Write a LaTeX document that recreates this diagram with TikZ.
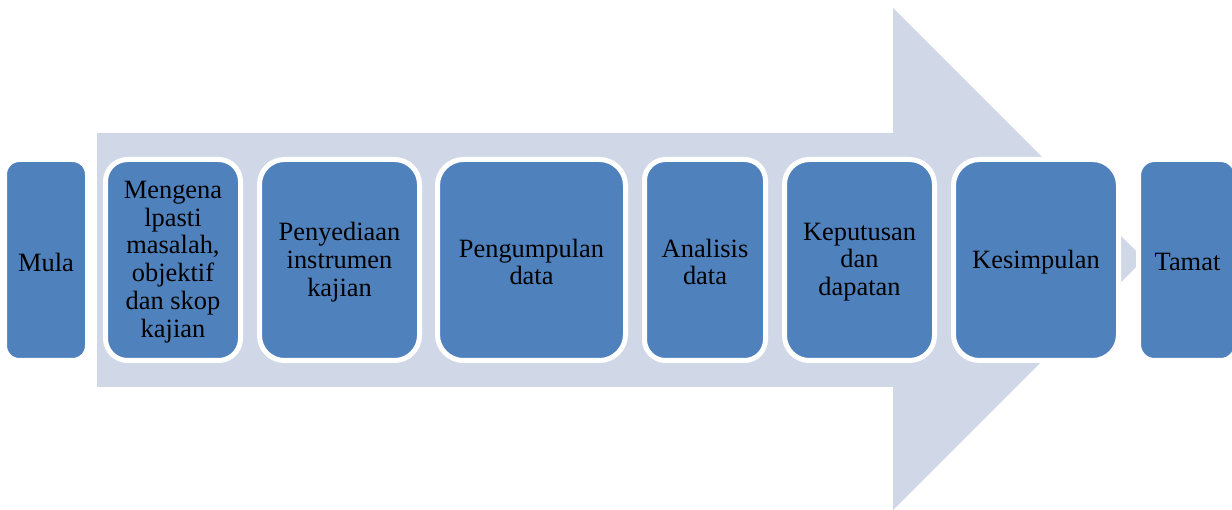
\documentclass[tikz,border=0pt]{standalone}
\usepackage{fontspec}
\setmainfont{Liberation Serif}
\definecolor{boxblue}{HTML}{4F81BD}
\definecolor{arrowtint}{HTML}{D0D8E8}
\tikzset{
  stepbox/.style={rectangle, fill=boxblue, draw=white, line width=5pt,
    minimum height=201pt, inner sep=0pt},
  steplabel/.style={inner sep=0pt, align=center, text=black,
    font=\fontsize{26.4pt}{27.8pt}\selectfont},
  bigarrow/.style={fill=arrowtint, draw=none}
}
% a rounded step box with its centred caption
\newcommand{\stepnode}[6]{%
  \node[stepbox, minimum width=#3, rounded corners=#4] (#1) at (#2,260) {};
  \node[steplabel] (#1-text) at ([yshift=-2pt]#1.center) {#6};%
}
\begin{document}
\begin{tikzpicture}[x=1pt,y=-1pt]
  \useasboundingbox (0,0) rectangle (1232,510);
  \clip (0,0) rectangle (1232,510);
  % background process arrow
  \fill[bigarrow] (97,133) -- (893,133) -- (893,8) -- (1144,259)
    -- (893,510) -- (893,387) -- (97,387) -- cycle;
  % process steps
  \stepnode{mula}{46}{83pt}{15pt}{}{Mula}
  \stepnode{kenal}{173}{135pt}{22pt}{}{Mengena\\lpasti\\masalah,\\objektif\\dan skop\\kajian}
  \stepnode{sedia}{339.5}{160pt}{25pt}{}{Penyediaan\\instrumen\\kajian}
  \stepnode{kumpul}{531.5}{188pt}{26pt}{}{Pengumpulan\\data}
  \stepnode{analisis}{705}{121pt}{21pt}{}{Analisis\\data}
  \stepnode{putus}{859.5}{150pt}{25pt}{}{Keputusan\\dan\\dapatan}
  \stepnode{simpul}{1036}{165pt}{26pt}{}{Kesimpulan}
  \stepnode{tamat}{1187.5}{98pt}{16pt}{}{Tamat}
\end{tikzpicture}
\end{document}
